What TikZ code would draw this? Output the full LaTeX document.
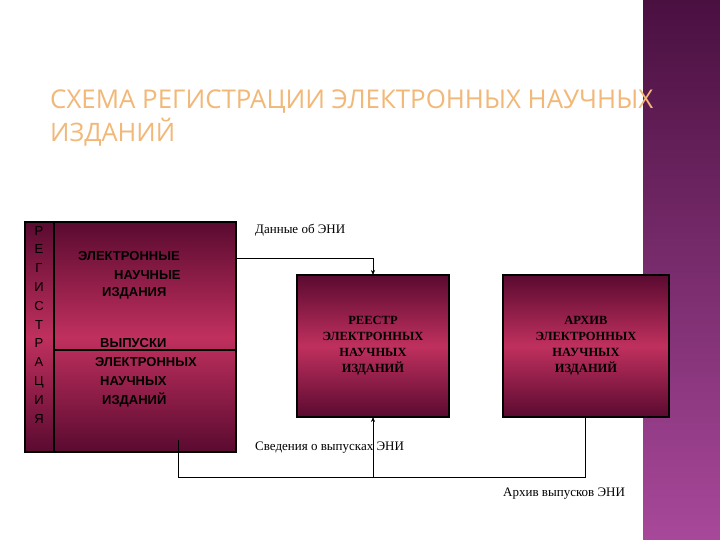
\documentclass[tikz,border=0pt]{standalone}
\usepackage{fontspec}
\setmainfont{Liberation Serif}
\newfontfamily\arialf{Liberation Sans}
\newfontfamily\titlef{Open Sans}
\usetikzlibrary{arrows.meta}
\definecolor{band1}{HTML}{4A1040}
\definecolor{band2}{HTML}{A8489A}
\definecolor{boxe}{HTML}{5A0A30}
\definecolor{boxm}{HTML}{C0305E}
\definecolor{ttl}{HTML}{F2B878}
\tikzset{
 grad/.style={top color=boxe,bottom color=boxe,middle color=boxm,draw=black,line width=1.5pt},
 conn/.style={draw=black,line width=0.6pt},
 arr/.style={conn,-{Stealth[length=5pt,width=4pt]}},
 lab/.style={font=\fontsize{13}{15}\selectfont,inner sep=0pt},
 btxt/.style={font=\arialf\bfseries\fontsize{13}{16}\selectfont,inner sep=0pt},
 stxt/.style={font=\bfseries\fontsize{12.5}{16}\selectfont,align=center,text=black},
}
\begin{document}
\begin{tikzpicture}[x=1pt,y=-1pt]
\useasboundingbox (0,0) rectangle (720,540);
\fill[white] (0,0) rectangle (720,540);
\shade[top color=band1,bottom color=band2] (643,0) rectangle (720,540);
\node[anchor=west,inner sep=0pt,text=ttl,font=\titlef\fontsize{22}{24}\selectfont] (t1) at (50,102) {\resizebox{603pt}{!}{СХЕМА РЕГИСТРАЦИИ ЭЛЕКТРОННЫХ НАУЧНЫХ}};
\node[anchor=west,inner sep=0pt,text=ttl,font=\titlef\fontsize{22}{24}\selectfont] (t2) at (50,132) {\resizebox{125pt}{!}{ИЗДАНИЙ}};
% left box
\path[grad] (25,222) rectangle (236,452);
\draw[line width=1.2pt] (54,222) -- (54,452);
\draw[line width=1.2pt] (54,350) -- (236,350);
\node[anchor=north,align=center,btxt,font=\arialf\fontsize{13}{18.8}\selectfont] (reg) at (39,226) {Р\\Е\\Г\\И\\С\\Т\\Р\\А\\Ц\\И\\Я};
\node[btxt,anchor=west] (e1) at (78,256) {ЭЛЕКТРОННЫЕ};
\node[btxt,anchor=west] (e2) at (114,275) {НАУЧНЫЕ};
\node[btxt,anchor=west] (e3) at (102,293) {ИЗДАНИЯ};
\node[btxt,anchor=west] (v1) at (100,343) {ВЫПУСКИ};
\node[btxt,anchor=west] (v2) at (95,362) {ЭЛЕКТРОННЫХ};
\node[btxt,anchor=west] (v3) at (100,381) {НАУЧНЫХ};
\node[btxt,anchor=west] (v4) at (102,400) {ИЗДАНИЙ};
\coordinate (lbR) at (236,258);
\coordinate (lbB) at (178,440);
% middle and right boxes
\path[grad] (297,275) rectangle (449,417);
\node[stxt] (reestr) at (373,346) {РЕЕСТР\\ЭЛЕКТРОННЫХ\\НАУЧНЫХ\\ИЗДАНИЙ};
\path[grad] (503,275) rectangle (669,417);
\node[stxt] (arch) at (586,346) {АРХИВ\\ЭЛЕКТРОННЫХ\\НАУЧНЫХ\\ИЗДАНИЙ};
\coordinate (mT) at (373,275);
\coordinate (mB) at (373,417);
\coordinate (rB) at (585,417);
\coordinate (j) at (373,477);
% connectors
\draw[arr] (lbR) -| (mT);
\draw[conn] (lbB) |- (585,477) -- (rB);
\draw[arr] (j) -- (mB);
\node[lab,anchor=west] (d) at (255,230) {Данные об ЭНИ};
\node[lab,anchor=west] (s) at (255,448) {Сведения о выпусках ЭНИ};
\node[lab,anchor=west] (a) at (503,494) {Архив выпусков ЭНИ};
\end{tikzpicture}
\end{document}
